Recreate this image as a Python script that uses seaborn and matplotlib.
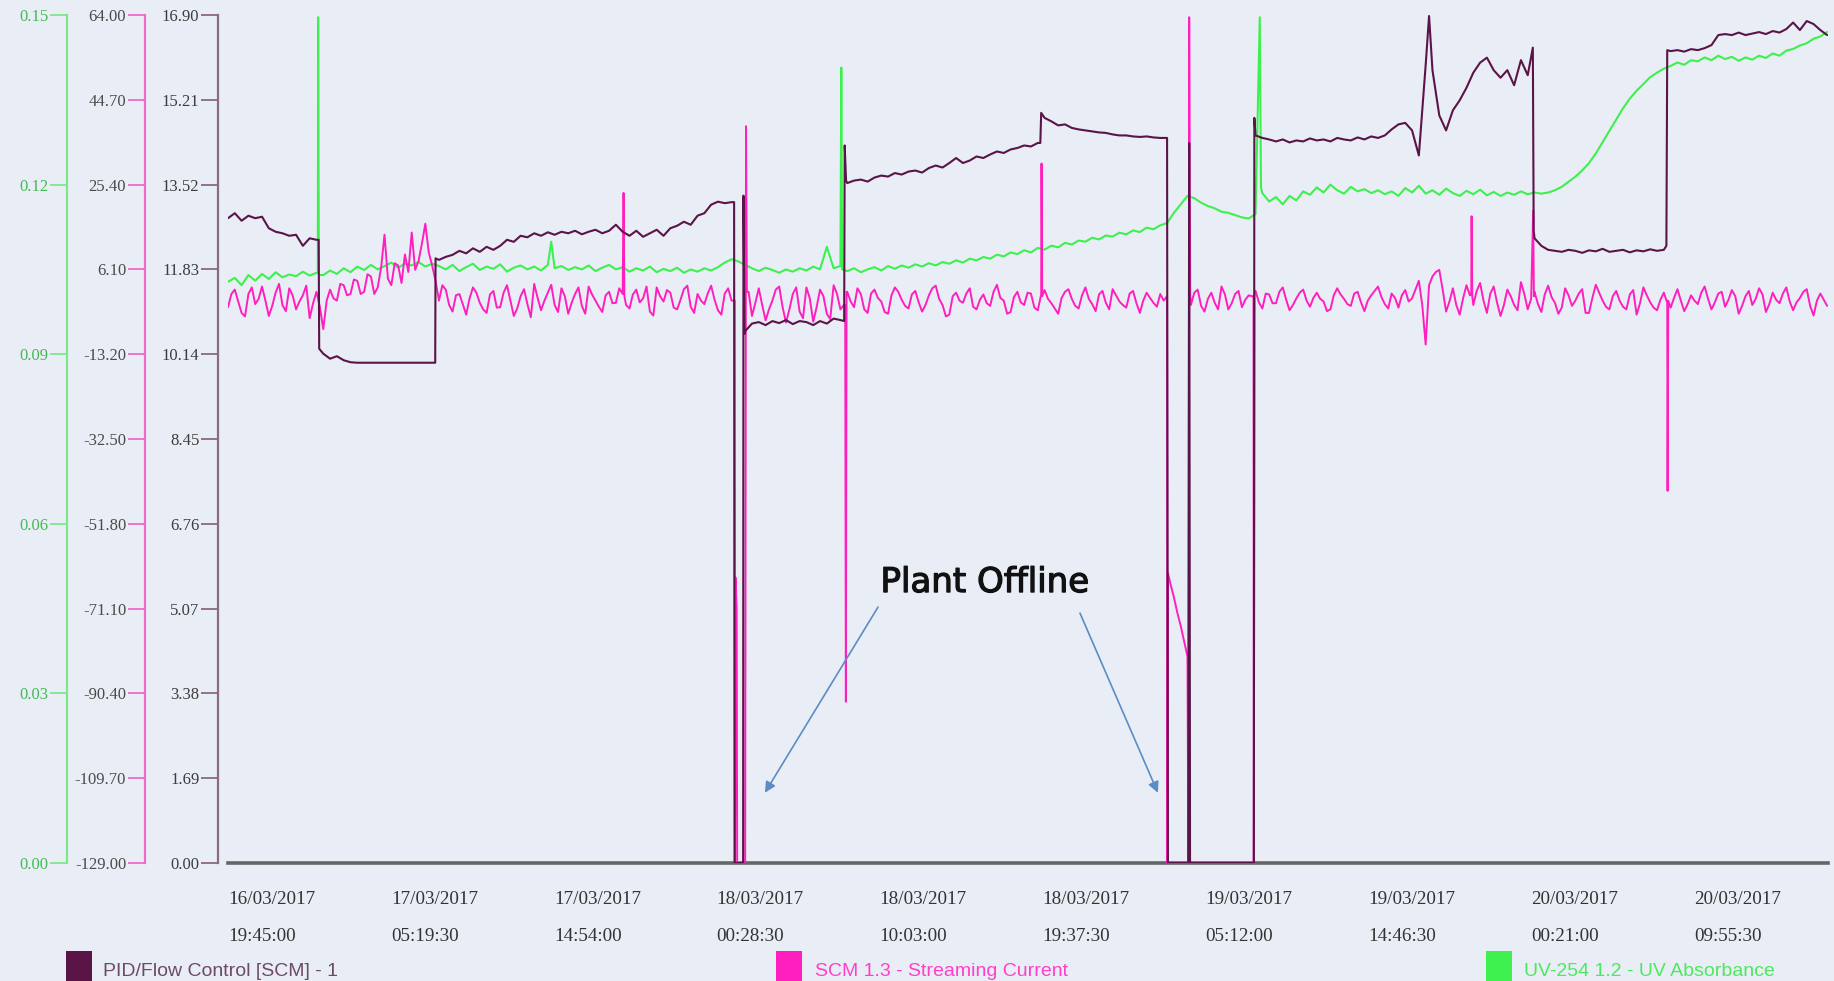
import numpy as np
import pandas as pd
import matplotlib
matplotlib.use("Agg")
import matplotlib.pyplot as plt
import matplotlib.dates as mdates
import matplotlib.patheffects as pe
from matplotlib.ticker import FormatStrFormatter, FixedLocator
from matplotlib.patches import Rectangle
import seaborn as sns

# ---------------- data ----------------
START = "2017-03-16 19:45:00"
PID_STEP_H = 0.4          # logger sample interval (hours)
SCM_STEP_H = 0.2
UV_STEP_H = 0.4
TICK_STEP = "9h34min30s"
N_TICKS = 10
X_SPAN_H = 94.05

series_names = ["PID/Flow Control [SCM] - 1",
                "SCM 1.3 - Streaming Current",
                "UV-254 1.2 - UV Absorbance"]

pid_values = [
    12.85, 12.95, 12.80, 12.90, 12.85, 12.88, 12.65, 12.58, 12.55, 12.50,
    12.52, 12.30, 12.45, 12.42, 10.15, 10.05, 10.10, 10.02, 9.98, 9.97,
    9.97, 9.97, 9.97, 9.97, 9.97, 9.97, 9.97, 9.97, 9.97, 9.97,
    9.97, 12.02, 12.08, 12.12, 12.20, 12.15, 12.25, 12.18, 12.28, 12.22,
    12.30, 12.42, 12.38, 12.50, 12.47, 12.55, 12.50, 12.57, 12.52, 12.58,
    12.55, 12.60, 12.53, 12.58, 12.62, 12.55, 12.60, 12.72, 12.58, 12.50,
    12.60, 12.48, 12.55, 12.62, 12.50, 12.65, 12.70, 12.78, 12.72, 12.90,
    12.95, 13.12, 13.18, 13.15, 13.17, 0.00, 10.60, 10.75, 10.78, 10.72,
    10.80, 10.76, 10.82, 10.74, 10.80, 10.78, 10.72, 10.80, 10.75, 10.85,
    10.82, 13.55, 13.60, 13.62, 13.58, 13.66, 13.70, 13.68, 13.75, 13.72,
    13.78, 13.80, 13.76, 13.85, 13.90, 13.86, 13.95, 14.05, 13.95, 14.00,
    14.08, 14.05, 14.12, 14.18, 14.15, 14.22, 14.25, 14.30, 14.28, 14.35,
    14.85, 14.78, 14.70, 14.72, 14.65, 14.62, 14.60, 14.58, 14.56, 14.55,
    14.52, 14.50, 14.50, 14.48, 14.47, 14.48, 14.46, 14.45, 14.45, 0.00,
    0.00, 0.00, 0.00, 0.00, 0.00, 0.00, 0.00, 0.00, 0.00, 0.00,
    0.00, 14.50, 14.45, 14.42, 14.38, 14.42, 14.36, 14.40, 14.38, 14.44,
    14.40, 14.42, 14.38, 14.45, 14.42, 14.40, 14.46, 14.42, 14.48, 14.45,
    14.50, 14.62, 14.72, 14.75, 14.60, 14.10, 15.90, 15.80, 14.90, 14.60,
    15.00, 15.20, 15.45, 15.75, 15.95, 16.05, 15.80, 15.65, 15.80, 15.50,
    16.00, 15.70, 12.45, 12.30, 12.22, 12.20, 12.18, 12.22, 12.20, 12.16,
    12.21, 12.19, 12.24, 12.18, 12.20, 12.22, 12.17, 12.21, 12.19, 12.23,
    12.20, 12.22, 16.18, 16.20, 16.17, 16.22, 16.20, 16.24, 16.30, 16.50,
    16.52, 16.50, 16.55, 16.50, 16.53, 16.56, 16.52, 16.58, 16.55, 16.62,
    16.75, 16.60, 16.78, 16.72, 16.60, 16.50,
]
pid_event_hours = [5.33, 5.36, 12.18, 12.20, 29.75, 29.78, 30.28, 30.30, 30.36,
                   36.22, 36.25, 36.33, 47.75, 47.80, 55.25, 56.45, 56.50, 56.55,
                   60.30, 60.33, 70.60, 76.70, 76.75, 84.55, 84.60]
pid_event_values = [12.42, 10.25, 9.97, 12.05, 13.17, 0.0, 0.0, 13.30, 10.55,
                    10.80, 14.30, 13.60, 14.35, 14.95, 0.0, 0.0, 14.35, 0.0,
                    0.0, 14.85, 16.88, 16.25, 12.60, 12.30, 16.20]

scm_values = [
    -2.5, 0.5, 1.5, -1.2, -3.8, -4.6, 0.5, 2.0, -1.8, -0.6,
    2.2, -1.0, -4.5, -2.2, 0.8, 2.8, -2.0, -3.4, 1.8, 0.2,
    -3.0, -1.2, 0.2, 2.4, -5.0, -1.6, 1.0, -2.4, -7.5, -1.0,
    1.5, -0.5, -1.0, 2.8, 2.5, 0.2, 0.5, 3.8, 3.5, 0.5,
    1.0, 5.0, 4.5, 0.5, 2.0, 6.5, 14.0, 4.0, 2.5, 7.5,
    7.0, 3.0, 9.5, 5.5, 14.5, 6.0, 8.0, 12.0, 16.5, 10.0,
    7.0, 3.5, -1.0, 2.5, 1.5, -2.0, -3.5, 0.2, 0.5, -1.8,
    -4.2, -0.5, 2.0, 0.8, -1.5, -3.0, -3.8, 0.4, 1.2, -2.6,
    -2.5, 0.8, 2.5, -1.0, -4.5, -2.8, 0.0, 1.6, -1.8, -4.8,
    2.8, -0.4, -3.2, -1.0, 0.8, 2.6, -2.0, -3.6, 1.8, 0.0,
    -4.0, -1.5, 0.5, 2.0, -2.2, -4.0, 2.2, 0.4, -1.0, -2.4,
    -3.6, 0.2, 1.0, -1.6, -1.5, 1.8, 0.5, -2.0, -2.8, 0.4,
    1.5, -1.4, -0.5, 2.2, -3.5, -4.4, 2.0, 0.0, -1.2, 1.4,
    0.8, -2.6, -3.0, -0.8, 1.6, 2.4, -2.4, -3.8, 0.5, -1.0,
    -1.8, 0.6, 2.4, -0.8, -3.2, -4.2, 0.6, 1.8, -1.0, -129.0,
    -129.0, -129.0, -129.0, 1.0, -4.5, -1.5, 1.8, -2.0, -5.5, -3.0,
    -1.0, 1.5, 2.2, -2.5, -6.0, -3.0, 0.5, 2.0, -3.5, -5.0,
    2.0, -0.5, -5.8, -2.5, 1.5, 0.0, -4.0, -5.2, 2.5, 0.5,
    -3.0, -2.0, 1.0, -1.2, -2.5, 1.8, 0.5, -3.0, -3.8, 0.6,
    1.5, -0.4, -1.2, -3.6, -4.0, 0.2, 2.0, 1.0, -0.8, -2.2,
    -2.8, 0.4, 1.2, -1.4, -3.5, -2.0, 0.2, 1.8, 2.4, -0.6,
    -2.0, -4.6, -4.2, 0.0, 0.8, -1.0, -1.5, 0.6, 1.8, -2.4,
    -3.0, -0.8, 0.4, -1.6, -2.2, 1.0, 2.6, -0.4, -1.0, -4.0,
    -3.6, -0.2, 1.0, -1.4, -2.0, 0.8, 0.6, -2.6, -3.2, 0.4,
    1.4, -0.6, -1.6, -2.8, -4.0, -0.4, 1.0, 1.6, -0.6, -2.2,
    -2.8, 0.2, 2.0, -0.6, -1.8, -3.4, 0.4, 1.2, -1.5, -3.0,
    1.6, 0.2, -1.2, -2.0, -2.6, 0.6, 1.2, -1.6, -3.8, -1.0,
    0.8, -0.4, -1.5, -2.4, 0.5, -1.0, 0.0, -65.5, -68.5, -72.0,
    -75.0, -78.5, -82.0, -2.0, 0.8, 1.5, -2.2, -3.5, -0.6, 0.8,
    -1.5, -3.0, 2.2, 0.4, -3.0, -1.6, 0.5, 1.2, -2.5, -0.8,
    0.2, 0.0, 1.2, -1.4, -2.8, 0.6, 0.4, -1.6, -1.6, 1.0,
    2.0, -0.8, -3.2, -2.0, -0.5, 0.8, 1.5, -1.0, -2.4, -0.4,
    0.8, -0.6, -1.2, -3.4, -3.0, 0.2, 1.8, 0.4, -0.6, -1.8,
    -2.2, 0.6, 1.0, -1.4, -3.4, -1.0, 0.2, 1.2, 2.2, -0.2,
    -1.8, -2.8, 0.6, -0.4, -2.6, 0.2, 1.4, -1.2, -0.5, 1.5,
    3.5, -2.0, -11.0, 2.5, 4.5, 5.5, 6.0, 1.5, -3.5, -1.2,
    1.8, -2.0, -4.2, -0.5, 2.5, 0.2, -2.0, 1.2, 3.0, -1.0,
    -3.8, 0.6, 2.2, -1.5, -4.5, -2.0, 1.5, 0.0, -2.0, -3.2,
    3.2, 0.5, -3.0, -0.6, 1.0, -1.8, -3.6, 0.4, 2.4, -0.2,
    -1.5, -4.0, -2.6, 1.8, 0.2, -2.2, -1.0, 0.6, 1.6, -3.8,
    -3.8, -0.4, 2.6, 0.8, -1.0, -2.4, -3.0, 0.0, 1.2, -1.0,
    -2.4, -3.0, 0.4, 1.4, -4.2, -1.6, 2.0, 0.2, -1.4, -2.6,
    -3.2, -0.8, 0.8, -1.5, -2.6, -0.4, 1.6, -1.0, -3.4, -1.8,
    0.2, -1.0, -1.8, 0.8, 2.2, -0.6, -3.0, -1.4, 0.6, 1.0,
    -2.4, -0.8, 1.4, 0.0, -4.0, -2.2, 0.0, 1.2, -2.0, -0.6,
    1.8, 0.4, -3.6, -1.8, 0.8, -0.8, -1.6, 0.6, 2.0, -1.2,
    -3.2, -1.4, -0.4, 1.0, 1.6, -2.2, -4.4, -1.0, 0.6, -0.8,
    -2.2,
]
scm_event_hours = [23.25, 23.30, 29.78, 29.79, 29.83, 29.90, 29.93, 30.45, 30.50,
                   36.28, 36.32, 36.36, 47.82, 47.86, 55.22, 55.25, 56.45, 56.50,
                   56.56, 60.28, 60.30, 60.34, 73.08, 73.10, 73.14, 76.72, 76.76,
                   84.62, 84.66]
scm_event_values = [23.5, 0.0, -1.0, -129.0, -64.0, -71.0, -129.0, 38.7, 1.0,
                    -2.0, -92.3, 1.0, 30.2, 0.0, -129.0, -63.0, -129.0, 63.5,
                    0.5, 0.0, -129.0, 0.5, 0.5, 18.2, 0.0, 19.5, 0.0,
                    -44.3, -1.0]

uv_values = [
    0.1028, 0.1035, 0.1022, 0.1040, 0.1030, 0.1042, 0.1033, 0.1045, 0.1036, 0.1041,
    0.1038, 0.1046, 0.1039, 0.1044, 0.1040, 0.1048, 0.1042, 0.1052, 0.1045, 0.1055,
    0.1049, 0.1058, 0.1050, 0.1056, 0.1062, 0.1053, 0.1060, 0.1057, 0.1063, 0.1055,
    0.1060, 0.1056, 0.1050, 0.1058, 0.1047, 0.1054, 0.1060, 0.1049, 0.1055, 0.1051,
    0.1059, 0.1046, 0.1053, 0.1057, 0.1050, 0.1055, 0.1048, 0.1058, 0.1052, 0.1056,
    0.1049, 0.1054, 0.1050, 0.1057, 0.1047, 0.1053, 0.1058, 0.1050, 0.1054, 0.1046,
    0.1052, 0.1048, 0.1055, 0.1045, 0.1051, 0.1047, 0.1053, 0.1044, 0.1050, 0.1046,
    0.1052, 0.1048, 0.1054, 0.1062, 0.1068, 0.1064, 0.1058, 0.1052, 0.1047, 0.1053,
    0.1049, 0.1044, 0.1050, 0.1046, 0.1052, 0.1048, 0.1055, 0.1050, 0.1090, 0.1052,
    0.1056, 0.1047, 0.1052, 0.1045, 0.1050, 0.1054, 0.1048, 0.1056, 0.1051, 0.1057,
    0.1053, 0.1059, 0.1055, 0.1061, 0.1057, 0.1063, 0.1060, 0.1066, 0.1062, 0.1069,
    0.1066, 0.1072, 0.1069, 0.1076, 0.1073, 0.1080, 0.1077, 0.1084, 0.1080, 0.1088,
    0.1085, 0.1092, 0.1089, 0.1097, 0.1094, 0.1101, 0.1099, 0.1106, 0.1103, 0.1110,
    0.1108, 0.1115, 0.1112, 0.1119, 0.1116, 0.1124, 0.1121, 0.1128, 0.1132, 0.1150,
    0.1165, 0.1180, 0.1176, 0.1168, 0.1162, 0.1158, 0.1152, 0.1150, 0.1146, 0.1142,
    0.1140, 0.1148, 0.1185, 0.1170, 0.1178, 0.1165, 0.1180, 0.1172, 0.1188, 0.1182,
    0.1195, 0.1186, 0.1200, 0.1190, 0.1184, 0.1196, 0.1188, 0.1192, 0.1185, 0.1190,
    0.1183, 0.1188, 0.1180, 0.1194, 0.1186, 0.1198, 0.1184, 0.1190, 0.1182, 0.1193,
    0.1185, 0.1180, 0.1189, 0.1183, 0.1191, 0.1181, 0.1187, 0.1180, 0.1186, 0.1182,
    0.1188, 0.1183, 0.1186, 0.1184, 0.1186, 0.1190, 0.1196, 0.1205, 0.1214, 0.1225,
    0.1238, 0.1255, 0.1275, 0.1295, 0.1315, 0.1335, 0.1352, 0.1366, 0.1378, 0.1390,
    0.1398, 0.1405, 0.1410, 0.1416, 0.1412, 0.1420, 0.1418, 0.1425, 0.1420, 0.1428,
    0.1422, 0.1426, 0.1419, 0.1425, 0.1421, 0.1428, 0.1424, 0.1432, 0.1428, 0.1437,
    0.1440, 0.1446, 0.1450, 0.1458, 0.1462, 0.1470,
]
uv_event_hours = [5.28, 5.30, 5.34, 19.00, 36.05, 36.10, 60.65, 60.72]
uv_event_values = [0.1044, 0.1496, 0.1040, 0.1099, 0.1407, 0.1050, 0.1496, 0.1195]

pid_ticks = [0.00, 1.69, 3.38, 5.07, 6.76, 8.45, 10.14, 11.83, 13.52, 15.21, 16.90]
scm_ticks = [-129.0, -109.7, -90.4, -71.1, -51.8, -32.5, -13.2, 6.1, 25.4, 44.7, 64.0]
uv_ticks = [0.00, 0.03, 0.06, 0.09, 0.12, 0.15]

annotation_text = "Plant Offline"


def build(values, step, ev_h, ev_v):
    hours = np.concatenate([np.arange(len(values)) * step, np.asarray(ev_h, float)])
    vals = np.concatenate([np.asarray(values, float), np.asarray(ev_v, float)])
    df = pd.DataFrame({"hours": hours, "value": vals}).sort_values("hours", kind="mergesort")
    df["time"] = pd.Timestamp(START) + pd.to_timedelta(df["hours"], unit="h")
    return df.reset_index(drop=True)


pid_df = build(pid_values, PID_STEP_H, pid_event_hours, pid_event_values)
scm_df = build(scm_values, SCM_STEP_H, scm_event_hours, scm_event_values)
uv_df = build(uv_values, UV_STEP_H, uv_event_hours, uv_event_values)

# ---------------- style ----------------
sns.set_style("white")
plt.rcParams["font.family"] = ["DejaVu Sans"]

BG = "#e9eef6"
PID_C = "#5a1447"
SCM_C = "#ff1fbf"
UV_C = "#3ef04e"

W, H = 1834, 981
fig = plt.figure(figsize=(W / 100, H / 100), dpi=100, facecolor=BG)
ax = fig.add_axes([228 / W, 118 / H, 1600 / W, 848 / H])
ax.set_facecolor(BG)
ax_scm = ax.twinx()
ax_pid = ax.twinx()

sns.lineplot(data=uv_df, x="time", y="value", ax=ax, color=UV_C, linewidth=1.5,
             estimator=None, sort=False)
sns.lineplot(data=scm_df, x="time", y="value", ax=ax_scm, color=SCM_C, linewidth=1.4,
             estimator=None, sort=False)
sns.lineplot(data=pid_df, x="time", y="value", ax=ax_pid, color=PID_C, linewidth=1.5,
             estimator=None, sort=False)

start = pd.Timestamp(START)
ax.set_xlim(start, start + pd.Timedelta(hours=X_SPAN_H))
ax.set_ylim(uv_ticks[0], uv_ticks[-1])
ax_scm.set_ylim(scm_ticks[0], scm_ticks[-1])
ax_pid.set_ylim(pid_ticks[0], pid_ticks[-1])

for a in (ax, ax_scm, ax_pid):
    a.set_xlabel("")
    a.set_ylabel("")
    for s in ("top", "right"):
        a.spines[s].set_visible(False)
    a.yaxis.set_ticks_position("left")
    a.yaxis.set_label_position("left")
    a.spines["left"].set_visible(True)
for a in (ax_scm, ax_pid):
    a.spines["bottom"].set_visible(False)
    a.patch.set_visible(False)

# y axes
axis_specs = [
    (ax, uv_ticks, 115.9, "#7ee68a", "#45b955"),
    (ax_scm, scm_ticks, 59.8, "#f06ac8", "#4a4a4a"),
    (ax_pid, pid_ticks, 7.2, "#8a6a80", "#3c3c3c"),
]
for a, ticks, off, spc, lab in axis_specs:
    a.spines["left"].set_position(("outward", off))
    a.spines["left"].set_color(spc)
    a.spines["left"].set_linewidth(1.6)
    a.yaxis.set_major_locator(FixedLocator(ticks))
    a.yaxis.set_major_formatter(FormatStrFormatter("%.2f"))
    a.tick_params(axis="y", direction="out", length=12, width=1.3, pad=1.5,
                  color=spc, labelcolor=lab, labelsize=12)
    for t in a.get_yticklabels():
        t.set_fontfamily("Liberation Serif")

# x axis
ax.spines["bottom"].set_color("#666666")
ax.spines["bottom"].set_linewidth(2.6)
xt = [start + k * pd.Timedelta(TICK_STEP) for k in range(N_TICKS)]
ax.set_xticks(xt)
ax.xaxis.set_major_formatter(mdates.DateFormatter("%d/%m/%Y\n%H:%M:%S"))
ax.tick_params(axis="x", length=0, pad=20, labelsize=13.75, labelcolor="#333333")
for t in ax.get_xticklabels():
    t.set_fontfamily("Liberation Serif")
    t.set_horizontalalignment("left")
    t.set_linespacing(2.55)

# annotation (positions in hours / PID units)
def tnum(h):
    return mdates.date2num(start + pd.Timedelta(hours=h))

ax_pid.text(tnum(44.47), 5.40, annotation_text, ha="center", va="baseline",
            fontsize=24.5, color="#111111", family="DejaVu Sans",
            path_effects=[pe.withStroke(linewidth=0.9, foreground="#111111")])
arrow_kw = dict(arrowstyle="-|>", color="#5b8cc4", lw=1.2, mutation_scale=16,
                shrinkA=0, shrinkB=0)
ax_pid.annotate("", xy=(tnum(31.56), 1.40), xytext=(tnum(38.21), 5.10),
                arrowprops=arrow_kw)
ax_pid.annotate("", xy=(tnum(54.66), 1.40), xytext=(tnum(50.08), 4.98),
                arrowprops=arrow_kw)

# legend at the bottom
legend_specs = [
    (series_names[0], PID_C, "#6e4a68", 66, 103),
    (series_names[1], SCM_C, "#ff3fc8", 776, 815),
    (series_names[2], UV_C, "#4ee85e", 1486, 1524),
]
for name, sq_c, txt_c, sx, tx in legend_specs:
    fig.add_artist(Rectangle((sx / W, 0), 26 / W, 30 / H, transform=fig.transFigure,
                             facecolor=sq_c, edgecolor="none"))
    fig.text(tx / W, 9.7 / H, name, ha="left", va="center", fontsize=14,
             color=txt_c, family="Liberation Sans")

fig.savefig("out.png", dpi=100, facecolor=BG)
